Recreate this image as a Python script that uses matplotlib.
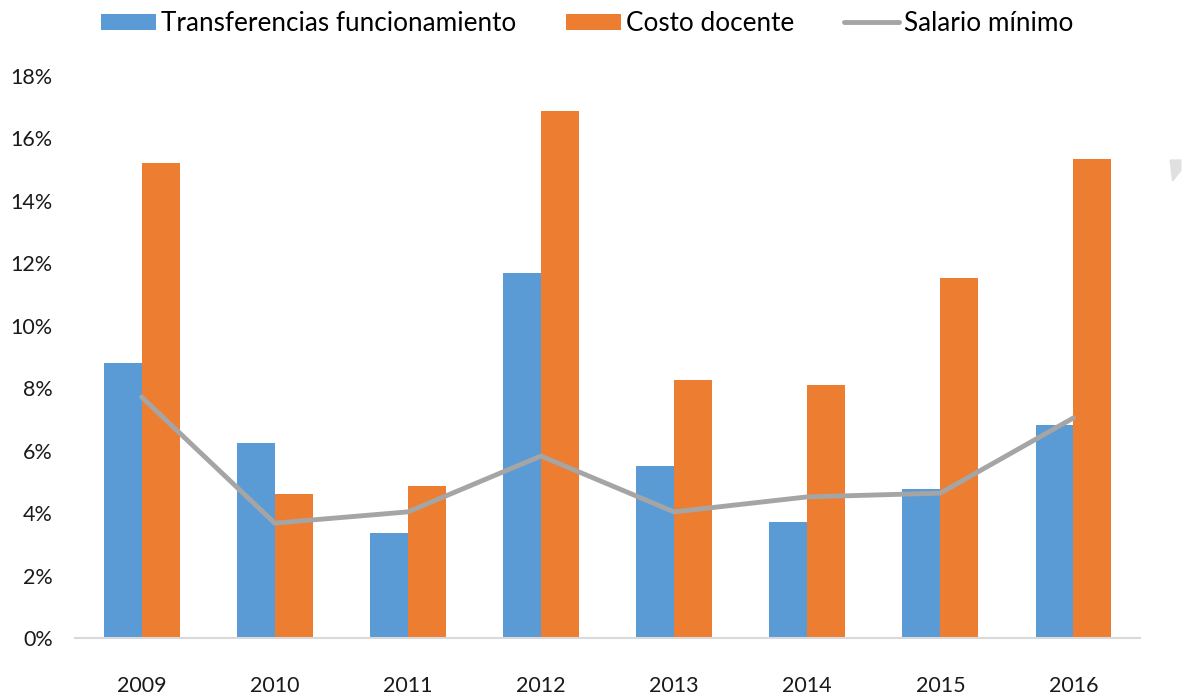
import matplotlib
matplotlib.use("Agg")
import matplotlib.pyplot as plt
from matplotlib.patches import Polygon
import numpy as np

years = ["2009", "2010", "2011", "2012", "2013", "2014", "2015", "2016"]
transferencias = [8.81, 6.25, 3.36, 11.69, 5.51, 3.72, 4.77, 6.82]
costo_docente = [15.21, 4.61, 4.87, 16.88, 8.26, 8.10, 11.53, 15.34]
salario_minimo = [7.72, 3.68, 4.04, 5.83, 4.04, 4.52, 4.64, 7.05]
y_ticks = [0, 2, 4, 6, 8, 10, 12, 14, 16, 18]

plt.rcParams['font.family'] = ['Lato', 'DejaVu Sans']

fig = plt.figure(figsize=(11.82, 6.96), dpi=100)
ax = fig.add_axes([0.0635, 0.0833, 0.901, 0.8075])

x = np.arange(len(years))
w = 0.285
blue = "#5B9BD5"
orange = "#ED7D31"
gray = "#A5A5A5"

b1 = ax.bar(x - w/2, transferencias, w, color=blue, label="Transferencias funcionamiento")
b2 = ax.bar(x + w/2, costo_docente, w, color=orange, label="Costo docente")
l1, = ax.plot(x, salario_minimo, color=gray, lw=3.5, label="Salario mínimo", solid_capstyle='round')

ax.set_xlim(-0.5, 7.5)
ax.set_ylim(0, 18)
ax.set_yticks(y_ticks)
ax.set_yticklabels([f"{v}%" for v in y_ticks])
ax.set_xticks(x)
ax.set_xticklabels(years)
ax.tick_params(axis='both', length=0, labelsize=15.5, colors="#1a1a1a")
ax.tick_params(axis='x', pad=27)
ax.tick_params(axis='y', pad=16)
for s in ['top', 'right', 'left']:
    ax.spines[s].set_visible(False)
ax.spines['bottom'].set_color("#D9D9D9")
ax.spines['bottom'].set_linewidth(1.5)

leg = fig.legend(handles=[b1, b2, l1], loc='center', bbox_to_anchor=(0.497, 0.966),
                 ncol=3, frameon=False, fontsize=18.8, handlelength=2.1, handleheight=0.6,
                 handletextpad=0.2, columnspacing=1.9)

# small gray arrow artifact at right edge
tri = Polygon([[0.990, 0.770], [0.999, 0.770], [0.999, 0.755], [0.992, 0.740]],
              closed=True, transform=fig.transFigure, color="#E0E0E0")
fig.patches.append(tri)

fig.savefig("out.png", dpi=100)
